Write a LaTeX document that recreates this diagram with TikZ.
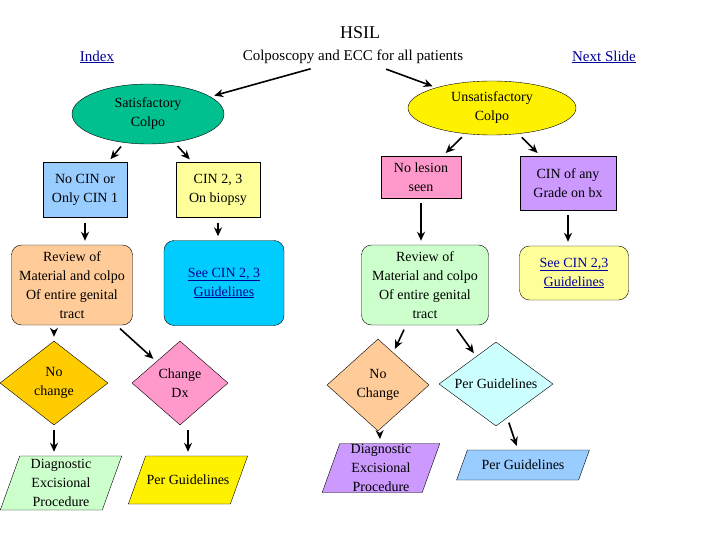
\documentclass[tikz,border=0pt]{standalone}
\usepackage{fontspec}
\setmainfont{Liberation Serif}
\usepackage{tikz}
\usetikzlibrary{shapes.geometric,arrows.meta}
\definecolor{linkblue}{RGB}{0,0,153}
\definecolor{satgreen}{RGB}{0,192,144}
\definecolor{paleblue}{RGB}{153,204,255}
\definecolor{paleyellow}{RGB}{255,255,153}
\definecolor{palepink}{RGB}{255,153,204}
\definecolor{palepurple}{RGB}{204,153,255}
\definecolor{paleorange}{RGB}{255,204,153}
\definecolor{skyblue}{RGB}{0,204,255}
\definecolor{palegreen}{RGB}{204,255,204}
\definecolor{gold}{RGB}{255,204,0}
\definecolor{palecyan}{RGB}{204,255,255}
\newcommand{\hlink}[1]{\textcolor{linkblue}{\underline{#1}}}
% parallelogram: name, x, y, width, height, colour, text
\newcommand{\slantbox}[7]{%
    \draw[fill=#6] ({#2-#4/2+0.18*#5},{#3-#5/2}) -- ({#2+#4/2+0.18*#5},{#3-#5/2})
        -- ({#2+#4/2-0.18*#5},{#3+#5/2}) -- ({#2-#4/2-0.18*#5},{#3+#5/2}) -- cycle;
    \node[common, draw=none, minimum width=#4pt, minimum height=#5pt] (#1) at (#2,#3) {#7};}
\tikzset{
    common/.style={draw, align=center, font=\fontsize{14}{19}\selectfont, inner sep=1pt},
    oval/.style={common, ellipse},
    box/.style={common, rectangle},
    rbox/.style={common, rectangle, rounded corners=10pt},
    choice/.style={common, diamond, aspect=1.3},
    link/.style={-{Stealth[length=9pt,width=8pt]}, line width=1.6pt, shorten <=5pt, shorten >=4pt}
}
\begin{document}
\begin{tikzpicture}[x=1pt,y=-1pt]
    \useasboundingbox (0,0) rectangle (720,540);
    % title row
    \node[font=\fontsize{18}{20}\selectfont] (hsil) at (360,33) {HSIL};
    \node[font=\fontsize{15}{18}\selectfont] (index) at (97,57) {\hlink{Index}};
    \node[font=\fontsize{15}{18}\selectfont] (colpo) at (353,57) {Colposcopy and ECC for all patients};
    \node[font=\fontsize{15}{18}\selectfont] (next) at (604,57) {\hlink{Next Slide}};
    % second level
    \node[oval, fill=satgreen, minimum width=152pt, minimum height=60pt] (sat) at (148,114) {Satisfactory\\Colpo};
    \node[oval, fill=yellow, minimum width=168pt, minimum height=54pt] (unsat) at (492,108) {Unsatisfactory\\Colpo};
    % biopsy results
    \node[box, fill=paleblue, minimum width=84pt, minimum height=55pt] (nocin) at (85,190) {No CIN or\\Only CIN 1};
    \node[box, fill=paleyellow, minimum width=84pt, minimum height=55pt] (cin) at (218,190) {CIN 2, 3\\On biopsy};
    \node[box, fill=palepink, minimum width=80pt, minimum height=42pt] (nolesion) at (421,177) {No lesion\\seen};
    \node[box, fill=palepurple, minimum width=96pt, minimum height=54pt] (anycin) at (568,183) {CIN of any\\Grade on bx};
    % follow up
    \node[rbox, fill=paleorange, minimum width=121pt, minimum height=80pt] (reviewL) at (72,285) {Review of\\Material and colpo\\Of entire genital\\tract};
    \node[rbox, fill=skyblue, minimum width=120pt, minimum height=85pt] (seeL) at (224,283) {\hlink{See CIN 2, 3}\\\hlink{Guidelines}};
    \node[rbox, fill=palegreen, minimum width=127pt, minimum height=80pt] (reviewR) at (425,285) {Review of\\Material and colpo\\Of entire genital\\tract};
    \node[rbox, fill=paleyellow, minimum width=109pt, minimum height=54pt] (seeR) at (574,273) {\hlink{See CIN 2,3}\\\hlink{Guidelines}};
    % decisions
    \node[choice, fill=gold, minimum width=108pt, minimum height=84pt, inner sep=0pt] (nochL) at (54,383) {No\\change};
    \node[choice, fill=palepink, minimum width=96pt, minimum height=84pt, inner sep=0pt] (dx) at (180,383) {Change\\Dx};
    \node[choice, fill=paleorange, minimum width=102pt, minimum height=92pt, inner sep=0pt] (nochR) at (378,385) {No\\Change};
    \node[choice, fill=palecyan, minimum width=114pt, minimum height=84pt, inner sep=0pt] (perR) at (496,384) {Per Guidelines};
    % outcomes
    \slantbox{diagL}{61}{483}{102}{54}{palegreen}{Diagnostic\\Excisional\\Procedure}
    \slantbox{perL}{188}{480}{102}{48}{yellow}{Per Guidelines}
    \slantbox{diagR}{381}{468}{100}{49}{palepurple}{\fontsize{14}{16}\selectfont Diagnostic\\Excisional\\Procedure}
    \slantbox{perB}{523}{465}{122}{30}{paleblue}{Per Guidelines}
    % arrows
    \draw[link] (colpo) -- (sat);
    \draw[link] (colpo) -- (unsat);
    \draw[link] (sat) -- (nocin);
    \draw[link] (sat) -- (cin);
    \draw[link] (unsat) -- (nolesion);
    \draw[link] (unsat) -- (anycin);
    \draw[link] (nocin) -- (nocin |- reviewL.north);
    \draw[link] (cin) -- (cin |- seeL.north);
    \draw[link] (nolesion) -- (nolesion |- reviewR.north);
    \draw[link] (anycin) -- (anycin |- seeR.north);
    \draw[link] (reviewL.south -| nochL) -- (nochL);
    \draw[link] (reviewL) -- (dx);
    \draw[link] (reviewR) -- (nochR);
    \draw[link] (reviewR) -- (perR);
    \draw[link] (nochL) -- (nochL |- diagL.north);
    \draw[link] (dx.south -| perL) -- (perL);
    \draw[link] (nochR) -- (diagR);
    \draw[link] (perR) -- (perB);
\end{tikzpicture}
\end{document}
